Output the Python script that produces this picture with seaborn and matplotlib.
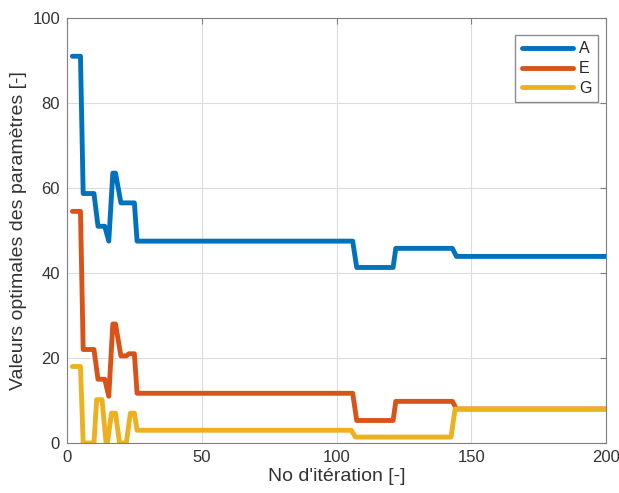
import numpy as np
import pandas as pd
import matplotlib
matplotlib.use("Agg")
import matplotlib.pyplot as plt
import seaborn as sns

# Data
a_x = [2, 5, 6, 10, 11.5, 14, 15.5, 17, 18, 20, 25, 26, 106, 107.5, 121, 122, 143, 144.5, 200]
a_y = [91, 91, 58.7, 58.7, 51, 51, 47.5, 63.5, 63.5, 56.5, 56.5, 47.5, 47.5, 41.3, 41.3, 45.8, 45.8, 43.9, 43.9]

e_x = [2, 5, 6, 10, 11.5, 14, 15.5, 17, 18, 20, 22, 23, 25, 26, 106, 107.5, 121, 122, 143, 144.5, 200]
e_y = [54.5, 54.5, 22, 22, 15, 15, 11, 28, 28, 20.5, 20.5, 21, 21, 11.7, 11.7, 5.3, 5.3, 9.8, 9.8, 8, 8]

g_x = [2, 5, 6, 10, 11, 13, 14.5, 15, 16.5, 18, 19.5, 22, 23.5, 25, 26, 105.5, 107, 142.5, 144, 200]
g_y = [18, 18, 0, 0, 10.2, 10.2, 0, 0, 7, 7, 0, 0, 7, 7, 3, 3, 1.4, 1.4, 8, 8]

labels = ["A", "E", "G"]
colors = ["#0072BD", "#D95319", "#EDB120"]

xticks = [0, 50, 100, 150, 200]
yticks = [0, 20, 40, 60, 80, 100]

frames = []
for lab, xs, ys in zip(labels, [a_x, e_x, g_x], [a_y, e_y, g_y]):
    frames.append(pd.DataFrame({"iter": xs, "val": ys, "param": lab}))
df = pd.concat(frames, ignore_index=True)

sns.set_style("whitegrid")
plt.rcParams["font.family"] = ["Liberation Sans", "DejaVu Sans"]

fig = plt.figure(figsize=(6.19, 4.93), dpi=100)
ax = fig.add_axes([67/619, 1-443/493, (606-67)/619, (443-18)/493])

sns.lineplot(data=df, x="iter", y="val", hue="param", palette=colors,
             estimator=None, sort=False, linewidth=3.5, ax=ax)

ax.set_xlim(0, 200)
ax.set_ylim(0, 100)
ax.set_xticks(xticks)
ax.set_yticks(yticks)
ax.grid(True, color="#dcdcdc", linewidth=0.8)
for s in ax.spines.values():
    s.set_visible(True)
    s.set_color("#7f7f7f")
    s.set_linewidth(0.8)
ax.tick_params(direction="in", length=4, width=0.8, color="#7f7f7f",
               top=True, right=True, labelsize=12, labelcolor="#333333", pad=5)
ax.set_xlabel("No d'itération [-]", fontsize=14, color="#333333", labelpad=2)
ax.set_ylabel("Valeurs optimales des paramètres [-]", fontsize=14, color="#333333", labelpad=4)

leg = ax.legend(loc="upper right", bbox_to_anchor=((598-67)/539, (443-35)/425),
                borderaxespad=0, fontsize=11.5,
                frameon=True, fancybox=False, edgecolor="#8c8c8c", framealpha=1,
                handlelength=3.2, handletextpad=0.4, labelspacing=0.3,
                borderpad=0.4, title=None)
for line in leg.get_lines():
    line.set_linewidth(3.5)

fig.savefig("out.png", dpi=100)
